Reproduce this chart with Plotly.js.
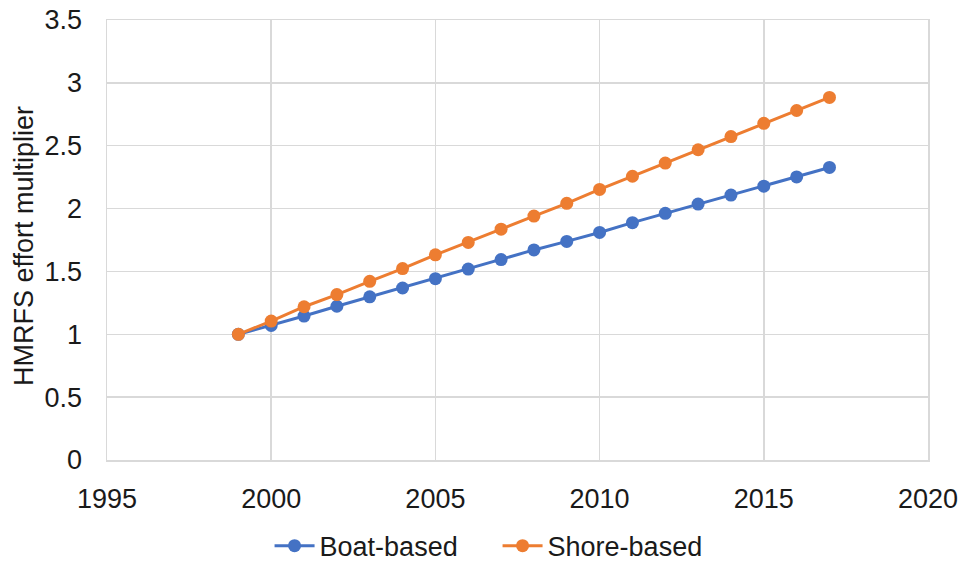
<!DOCTYPE html>
<html>
<head>
<meta charset="utf-8">
<script src="https://cdn.plot.ly/plotly-3.0.1.min.js"></script>
<style>html,body{margin:0;padding:0;background:#fff;}#chart{width:961px;height:563px;}</style>
</head>
<body>
<div id="chart"></div>
<script>
const years = [1999,2000,2001,2002,2003,2004,2005,2006,2007,2008,2009,2010,2011,2012,2013,2014,2015,2016,2017];
const boatBased = [1.0,1.07,1.145,1.223,1.298,1.368,1.442,1.519,1.594,1.671,1.739,1.81,1.888,1.962,2.036,2.107,2.178,2.252,2.327];
const shoreBased = [1.0,1.105,1.219,1.316,1.421,1.523,1.632,1.731,1.836,1.94,2.042,2.152,2.257,2.362,2.468,2.573,2.678,2.78,2.884];
const seriesNames = ['Boat-based','Shore-based'];
const xTicks = [1995,2000,2005,2010,2015,2020];
const yTicks = [0,0.5,1,1.5,2,2.5,3,3.5];
const yTickText = ['0','0.5','1','1.5','2','2.5','3','3.5'];

const fontFam = 'Liberation Sans, Arial, sans-serif';
const txt = '#1a1a1a';
const traces = [
  {x: years, y: boatBased, name: seriesNames[0], type:'scatter', mode:'lines+markers',
   line:{color:'#4472C4', width:3}, marker:{color:'#4472C4', size:13}},
  {x: years, y: shoreBased, name: seriesNames[1], type:'scatter', mode:'lines+markers',
   line:{color:'#ED7D31', width:3}, marker:{color:'#ED7D31', size:13}}
];
const layout = {
  width:961, height:563,
  margin:{l:107, r:33, t:20, b:103},
  paper_bgcolor:'#fff', plot_bgcolor:'#fff',
  font:{family:fontFam, size:27, color:txt},
  showlegend:true,
  legend:{orientation:'h', xref:'container', yref:'container', x:0.2805, xanchor:'left', y:0.03, yanchor:'middle',
          font:{size:27, color:txt}, entrywidth:173, entrywidthmode:'pixels', itemwidth:40, traceorder:'normal'},
  xaxis:{range:[1995,2020], tickvals:xTicks, ticktext:xTicks.map(String), showgrid:true, gridcolor:'#d9d9d9', gridwidth:1.5,
         showline:true, linecolor:'#d9d9d9', linewidth:1.5, mirror:true, zeroline:false,
         ticks:'outside', ticklen:14, tickcolor:'rgba(0,0,0,0)', tickfont:{size:27, color:txt}},
  yaxis:{range:[0,3.5], tickvals:yTicks, ticktext:yTickText, showgrid:true, gridcolor:'#d9d9d9', gridwidth:1.5,
         showline:true, linecolor:'#d9d9d9', linewidth:1.5, mirror:true, zeroline:false,
         ticks:'outside', ticklen:18, tickcolor:'rgba(0,0,0,0)', tickfont:{size:27, color:txt}},
  annotations:[{text:'HMRFS effort multiplier', xref:'paper', yref:'paper', x:0, y:0.5, xanchor:'center', yanchor:'middle',
                xshift:-83, yshift:-6, textangle:-90, showarrow:false, font:{size:27, color:txt}}]
};
Plotly.newPlot('chart', traces, layout, {displayModeBar:false, staticPlot:true});
</script>
</body>
</html>
